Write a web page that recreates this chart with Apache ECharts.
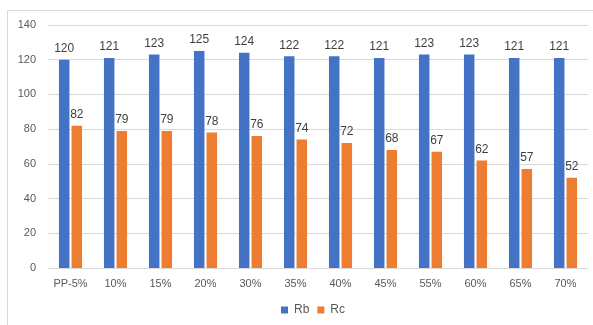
<!DOCTYPE html>
<html><head><meta charset="utf-8">
<script src="https://cdn.jsdelivr.net/npm/echarts@6/dist/echarts.min.js"></script>
<style>html,body{margin:0;padding:0;background:#fff}#c{width:593px;height:325px}</style>
</head><body><div id="c"></div>
<script>
const categories = ['PP-5%','10%','15%','20%','30%','35%','40%','45%','55%','60%','65%','70%'];
const rbValues = [120,121,123,125,124,122,122,121,123,123,121,121];
const rcValues = [82,79,79,78,76,74,72,68,67,62,57,52];
const chart = echarts.init(document.getElementById('c'));
const lbl = {show:true, position:'top', distance:5, color:'#404040', fontSize:12, fontFamily:'Liberation Sans'};
chart.setOption({
  animation:false,
  graphic:[{type:'rect', shape:{x:7.5,y:10.5,width:700,height:400}, style:{fill:'none', stroke:'#d9d9d9', lineWidth:1}, silent:true}],
  grid:{left:48, right:5, top:25, bottom:57},
  legend:{top:304, left:281, padding:0, icon:'rect', itemWidth:7, itemHeight:7, itemGap:8,
    textStyle:{color:'#595959', fontSize:12, fontFamily:'Liberation Sans', padding:[0,0,0,1]}, data:['Rb','Rc']},
  xAxis:{type:'category', data:categories,
    axisLine:{lineStyle:{color:'#d9d9d9'}}, axisTick:{show:false},
    axisLabel:{color:'#595959', fontSize:11, fontFamily:'Liberation Sans', margin:10}},
  yAxis:{type:'value', min:0, max:140, interval:20,
    axisLine:{show:false}, axisTick:{show:false},
    splitLine:{lineStyle:{color:'#d9d9d9'}},
    axisLabel:{color:'#595959', fontSize:11, fontFamily:'Liberation Sans', margin:12}},
  series:[
    {name:'Rb', type:'bar', data:rbValues, barWidth:10.5, barGap:'20%', itemStyle:{color:'#4472C4'}, label:lbl},
    {name:'Rc', type:'bar', data:rcValues, barWidth:10.5, barGap:'20%', itemStyle:{color:'#ED7D31'}, label:lbl}
  ]
});
</script></body></html>
